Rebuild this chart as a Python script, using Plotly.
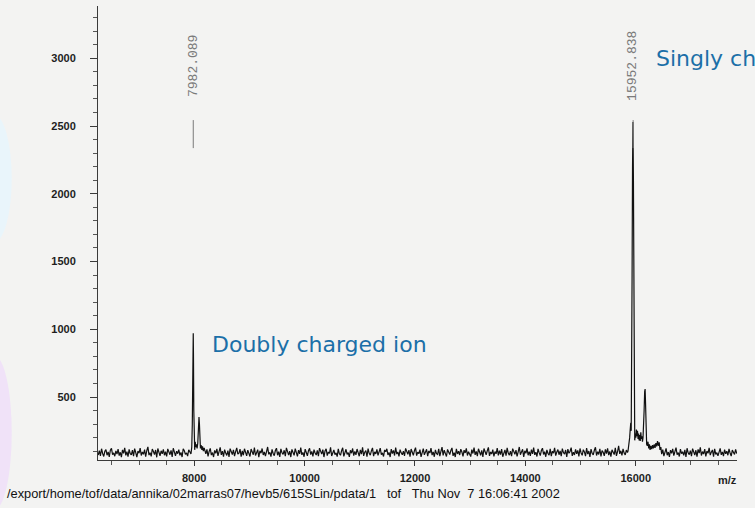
import numpy as np
import plotly.graph_objects as go

# ---------------- data ----------------
STEP = 20
seg_a_start = 6260
seg_a = [72, 104, 66, 118, 83, 61, 99, 112, 70, 95, 58, 107, 121, 74, 88, 63, 102, 79, 115, 67,
         92, 56, 110, 84, 125, 69, 97, 60, 113, 81, 73, 108, 64, 119, 90, 57, 101, 86, 123, 68,
         94, 77, 111, 59, 105, 132, 71, 89, 62, 116, 98, 75, 109, 55, 120, 85, 66, 103, 80, 114,
         70, 96, 61, 117, 87, 74, 106, 58, 122, 93, 65, 100, 82, 112, 69, 91, 57, 118, 103, 76,
         88, 64, 110, 96, 79]

peak1_mz = [7945, 7955, 7965, 7972, 7978, 7982, 7986, 7992, 7998, 8008, 8018, 8028, 8040, 8052,
            8064, 8076, 8086, 8094, 8102, 8112, 8124, 8138, 8150, 8165, 8180, 8195]
peak1_int = [95, 130, 300, 700, 940, 970, 800, 400, 150, 110, 170, 130, 150, 120,
             160, 240, 353, 300, 180, 120, 145, 110, 135, 100, 125, 95]

seg_b_start = 8210
seg_b = [80, 113, 62, 98, 121, 71, 90, 57, 106, 84, 117, 66, 95, 128, 73, 101, 60, 112, 87, 69,
         104, 58, 119, 91, 75, 110, 63, 97, 124, 78, 86, 115, 59, 102, 70, 118, 93, 65, 108, 82,
         61, 116, 99, 74, 127, 68, 89, 111, 56, 103, 85, 120, 72, 94, 64, 109, 131, 77, 92, 60,
         114, 83, 67, 105, 122, 70, 96, 58, 117, 88, 76, 107, 63, 125, 90, 71, 100, 57, 113, 84,
         69, 119, 95, 62, 108, 80, 126, 73, 91, 59, 115, 86, 66, 104, 121, 75, 98, 61, 111, 87,
         72, 106, 64, 123, 92, 78, 112, 57, 101, 118, 68, 94, 83, 129, 65, 97, 109, 74, 88, 60,
         117, 81, 70, 103, 125, 62, 96, 114, 76, 90, 58, 107, 85, 120, 67, 99, 73, 116, 89, 63,
         110, 78, 128, 66, 93, 105, 59, 119, 84, 71, 102, 124, 64, 95, 80, 113, 69, 98, 122, 75,
         87, 61, 109, 96, 118, 72, 91, 57, 115, 83, 106, 68, 127, 79, 94, 62, 112, 88, 74, 101,
         65, 121, 97, 77, 108, 60, 116, 85, 70, 104, 126, 67, 93, 81, 111, 58, 99, 119, 73, 90,
         114, 63, 102, 86, 123, 71, 95, 59, 110, 82, 76, 118, 64, 98, 130, 69, 107, 84, 61, 113,
         92, 75, 105, 124, 66, 89, 57, 117, 80, 100, 72, 115, 94, 62, 108, 87, 121, 68, 96, 78,
         60, 111, 83, 126, 73, 99, 64, 118, 91, 70, 106, 58, 120, 85, 74, 103, 128, 66, 94, 79,
         112, 61, 97, 81, 123, 69, 104, 75, 116, 59, 92, 110, 67, 125, 86, 71, 101, 63, 119, 88,
         77, 108, 62, 95, 131, 74, 90, 114, 58, 103, 84, 121, 70, 97, 65, 112, 80, 127, 73, 93,
         61, 117, 89, 68, 105, 122, 76, 96, 59, 110, 83, 71, 118, 64, 100, 86, 124, 67, 94, 112,
         74, 102, 63, 119, 90, 78, 109, 57, 115, 85, 98, 126, 66, 93, 72, 113, 81, 106, 62, 120,
         87, 70, 111, 95, 64, 123, 79, 101, 58, 116, 84, 73, 107, 129, 68, 97, 76, 118, 61, 104,
         92, 66, 114, 83, 121, 71, 99, 60, 110, 88, 75, 125, 65, 96, 140, 80, 103, 69, 117, 86,
         72, 108, 91]

peak2_mz = [15860, 15875, 15890, 15900, 15910, 15918, 15926, 15934, 15942, 15950, 15958, 15966,
            15974, 15982, 15992, 16002, 16012, 16022, 16032, 16042, 16052, 16062, 16072, 16082,
            16092, 16102, 16112, 16122, 16132, 16142, 16152, 16162, 16170, 16178, 16188, 16198,
            16210, 16222, 16235, 16248, 16260, 16275, 16290, 16305, 16320, 16335, 16350, 16365,
            16380, 16395, 16410, 16425, 16440, 16455]
peak2_int = [100, 140, 200, 260, 310, 250, 600, 1400, 2200, 2530, 2100, 1100,
             400, 180, 230, 200, 260, 210, 250, 190, 230, 180, 220, 175,
             240, 190, 210, 170, 200, 260, 400, 540, 559, 450, 250, 150,
             140, 170, 120, 150, 110, 140, 115, 145, 120, 150, 125, 160,
             135, 175, 140, 165, 110, 130]

seg_c_start = 16470
seg_c = [78, 112, 63, 99, 121, 70, 94, 58, 108, 85, 117, 67, 103, 126, 74, 90, 61, 115, 82, 96,
         69, 110, 57, 122, 88, 75, 104, 64, 119, 92, 72, 107, 60, 113, 86, 128, 68, 97, 79, 116,
         62, 101, 84, 124, 71, 93, 109, 59, 118, 77, 89, 66, 105, 121, 73, 95, 63, 112, 81, 100,
         70, 117, 87, 64, 108, 93, 76, 114, 82]

peak_label_mz = [7982.089, 15952.838]
peak_label_text = ["7982.089", "15952.838"]

y_tick_vals = [500, 1000, 1500, 2000, 2500, 3000]
y_tick_text = ["500", "1000", "1500", "2000", "2500", "3000"]
x_tick_vals = [8000, 10000, 12000, 14000, 16000]
x_tick_text = ["8000", "10000", "12000", "14000", "16000"]

footer = ("/export/home/tof/data/annika/02marras07/hevb5/615SLin/pdata/1"
          "\u00a0\u00a0\u00a0tof\u00a0\u00a0\u00a0Thu Nov\u00a0\u00a07 16:06:41 2002")

# ---------------- assemble spectrum ----------------
def seg_x(start, vals):
    return [start + STEP * i for i in range(len(vals))]

mz = seg_x(seg_a_start, seg_a) + peak1_mz + seg_x(seg_b_start, seg_b) + peak2_mz + seg_x(seg_c_start, seg_c)
inten = seg_a + peak1_int + seg_b + peak2_int + seg_c

fig = go.Figure()
fig.add_trace(go.Scatter(x=mz, y=inten, mode="lines",
                         line=dict(color="#111111", width=1.2), showlegend=False,
                         hoverinfo="skip"))

BG = "#f3f3f2"
tickfont = dict(family="Liberation Sans, Arial", size=11, color="#1e1e1e", weight="bold")

L, R, T, B = 98, 737, 6, 460
PW, PH = R - L, B - T

fig.update_layout(
    width=755, height=508,
    margin=dict(l=L, r=755 - R, t=T, b=508 - B),
    paper_bgcolor=BG, plot_bgcolor=BG,
    xaxis=dict(range=[6256, 17835], showgrid=False, zeroline=False,
               showline=True, linecolor="#3a3a3a", linewidth=1,
               tickmode="array", tickvals=x_tick_vals, ticktext=x_tick_text,
               ticks="outside", ticklen=5, tickcolor="#3a3a3a", tickfont=tickfont,
               minor=dict(dtick=500, ticks="outside", ticklen=4, tickcolor="#555"),
               ticklabelstandoff=3),
    yaxis=dict(range=[35, 3386], showgrid=False, zeroline=False,
               showline=True, linecolor="#3a3a3a", linewidth=1,
               tickmode="array", tickvals=y_tick_vals, ticktext=y_tick_text,
               ticks="outside", ticklen=7, tickcolor="#3a3a3a", tickfont=tickfont,
               minor=dict(dtick=100, ticks="outside", ticklen=4, tickcolor="#555"),
               ticklabelstandoff=12),
)

# decorative pale blobs at left edge (scan artefacts)
fig.add_shape(type="circle", xref="paper", yref="paper", x0=-0.19, x1=-0.135, y0=0.48, y1=0.76,
              fillcolor="#e9f5fb", line_width=0, layer="below")
fig.add_shape(type="circle", xref="paper", yref="paper", x0=-0.19, x1=-0.135, y0=-0.11, y1=0.23,
              fillcolor="#f0e2f8", line_width=0, layer="below")

# peak labels
for mzv, txt in zip(peak_label_mz, peak_label_text):
    fig.add_annotation(x=mzv, y=2945, xref="x", yref="y", text=txt, textangle=-90,
                       showarrow=False, font=dict(family="Liberation Mono, DejaVu Sans Mono",
                                                  size=13, color="#7a7a7a"))
    fig.add_shape(type="line", xref="x", yref="y", x0=mzv, x1=mzv, y0=2337, y1=2544,
                  line=dict(color="#7a7a7a", width=1))

# blue comments
fig.add_annotation(x=8290, y=891, xref="x", yref="y", xanchor="left", yanchor="middle",
                   text="Doubly charged ion", showarrow=False,
                   font=dict(family="DejaVu Sans", size=22, color="#1b6fa8"))
fig.add_annotation(x=16330, y=3002, xref="x", yref="y", xanchor="left", yanchor="middle",
                   text="Singly charged ion", showarrow=False,
                   font=dict(family="DejaVu Sans", size=22, color="#1b6fa8"))

# axis unit label
fig.add_annotation(x=(727 - L) / PW, y=(B - 480) / PH, xref="paper", yref="paper",
                   xanchor="center", yanchor="middle", text="m/z", showarrow=False,
                   font=dict(family="Liberation Sans, Arial", size=11, color="#1e1e1e",
                             weight="bold"))

# footer
fig.add_annotation(x=(5 - L) / PW, y=(B - 493) / PH, xref="paper", yref="paper",
                   xanchor="left", yanchor="middle", text=footer, showarrow=False,
                   font=dict(family="Liberation Sans, Arial", size=12.8, color="#111"))

fig.write_html("out.html")
